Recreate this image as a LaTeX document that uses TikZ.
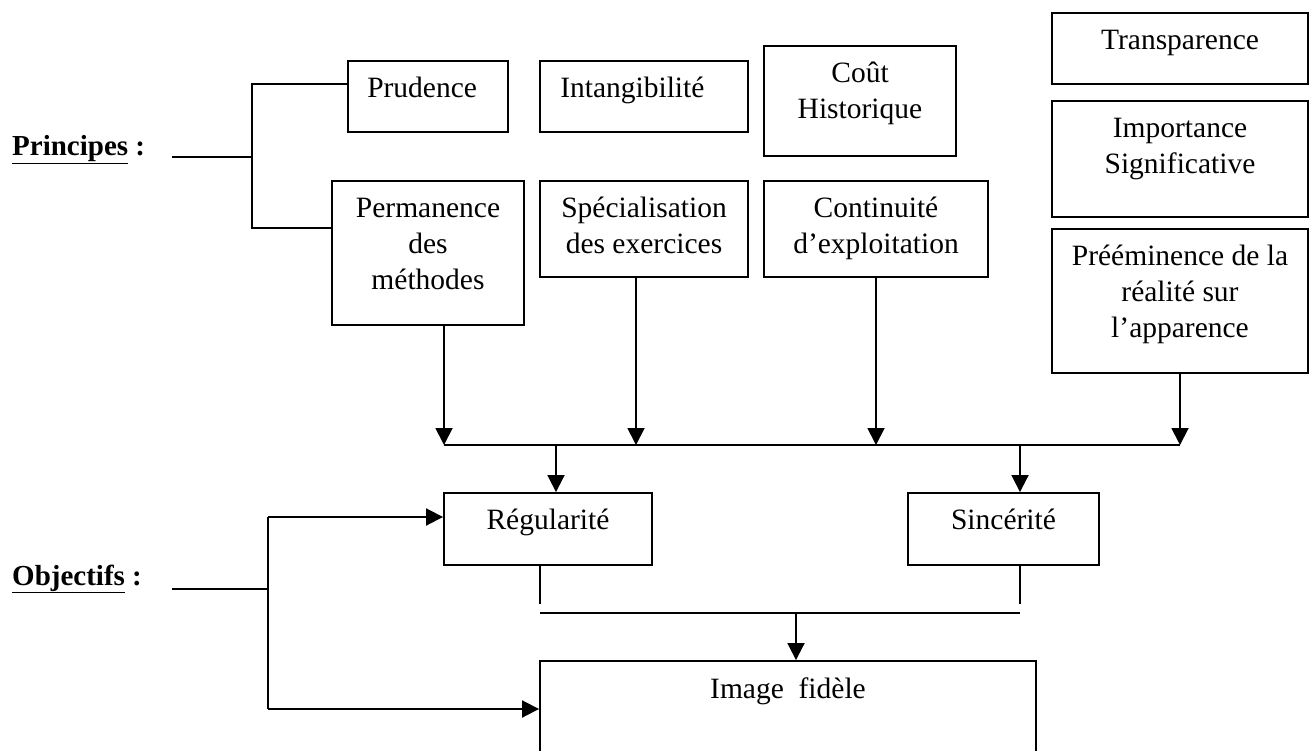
\documentclass[tikz,border=0pt]{standalone}
\usepackage{fontspec}
\setmainfont{Liberation Serif}
\usetikzlibrary{arrows.meta,positioning}
\begin{document}
\begin{tikzpicture}[x=1pt,y=-1pt,
  bx/.style={draw,line width=1.9pt,inner sep=0pt,rectangle},
  txt/.style={inner sep=0pt,align=center,font=\fontsize{29.5}{36}\selectfont},
  ltxt/.style={inner sep=0pt,align=left,font=\fontsize{29.5}{36}\selectfont},
  lbl/.style={inner sep=0pt,anchor=base west,font=\fontsize{29}{36}\selectfont\bfseries},
  ln/.style={line width=1.9pt},
  arr/.style={line width=1.9pt,-{Triangle[length=17pt,width=17pt]}}]
\useasboundingbox (0,0) rectangle (1314,751);
\clip (0,0) rectangle (1314,751);
\fill[white] (0,0) rectangle (1314,751);

% boxes
\node[bx,minimum width=160pt,minimum height=71pt] (prud) at (428,96.5) {};
\node[bx,minimum width=208pt,minimum height=71pt] (intang) at (644,96.5) {};
\node[bx,minimum width=192pt,minimum height=110pt] (cout) at (860,101) {};
\node[bx,minimum width=256pt,minimum height=71pt] (transp) at (1180,48.5) {};
\node[bx,minimum width=256pt,minimum height=116pt] (imp) at (1180,159) {};
\node[bx,minimum width=192pt,minimum height=144pt] (perm) at (428,253) {};
\node[bx,minimum width=208pt,minimum height=96pt] (spec) at (644,229) {};
\node[bx,minimum width=224pt,minimum height=96pt] (cont) at (876,229) {};
\node[bx,minimum width=256pt,minimum height=144pt] (pree) at (1180,301) {};
\node[bx,minimum width=208pt,minimum height=72pt] (reg) at (548,529) {};
\node[bx,minimum width=191pt,minimum height=72pt] (sinc) at (1003.5,529) {};
\node[bx,minimum width=496pt,minimum height=109pt] (img) at (788,715.5) {};

% texts
\node[ltxt,anchor=north west] (prudT) at ([xshift=20pt,yshift=-11.8pt]prud.north west) {\strut Prudence};
\node[ltxt,anchor=north west] (intangT) at ([xshift=21pt,yshift=-11.8pt]intang.north west) {\strut Intangibilité};
\node[txt,anchor=north] (coutT) at ([yshift=-11.8pt]cout.north) {\strut Coût\\Historique};
\node[txt,anchor=north] (transpT) at ([yshift=-11.8pt]transp.north) {\strut Transparence};
\node[txt,anchor=north] (impT) at ([yshift=-11.8pt]imp.north) {\strut Importance\\Significative};
\node[txt,anchor=north] (permT) at ([yshift=-11.8pt]perm.north) {\strut Permanence\\des\\méthodes};
\node[txt,anchor=north] (specT) at ([yshift=-11.8pt]spec.north) {\strut Spécialisation\\des exercices};
\node[txt,anchor=north] (contT) at ([yshift=-11.8pt]cont.north) {\strut Continuité\\d’exploitation};
\node[txt,anchor=north] (preeT) at ([yshift=-11.8pt]pree.north) {\strut Prééminence de la\\réalité sur\\l’apparence};
\node[txt,anchor=north] (regT) at ([yshift=-11.8pt]reg.north) {\strut Régularité};
\node[txt,anchor=north] (sincT) at ([yshift=-11.8pt]sinc.north) {\strut Sincérité};
\node[txt,anchor=north] (imgT) at ([yshift=-12.8pt]img.north) {\strut Image\ \ fidèle};

% labels
\node[lbl] (princ) at (12,156) {\underline{Principes} :};
\node[lbl] (obj) at (12,585) {\underline{Objectifs} :};

% principes bracket
\coordinate (pstart) at (172,157);
\coordinate (pj) at (252,157);
\coordinate (pbtop) at (252,84);
\coordinate (pbbot) at (252,228);
\draw[ln] (pstart) -- (pj);
\draw[ln] (prud.west |- pbtop) -- (pbtop) -- (pbbot) -- (perm.west |- pbbot);

% bus
\coordinate (b1) at (444,445);
\coordinate (b2) at (636,445);
\coordinate (b3) at (876,445);
\coordinate (b4) at (1180,445);
\draw[arr] (perm.south -| b1) -- (b1);
\draw[arr] (spec.south -| b2) -- (b2);
\draw[arr] (cont.south -| b3) -- (b3);
\draw[arr] (pree.south -| b4) -- (b4);
\draw[ln] (b1) -- (b4);

\coordinate (r1) at (556,445);
\coordinate (s1) at (1020,445);
\draw[arr] (r1) -- (reg.north -| r1);
\draw[arr] (s1) -- (sinc.north -| s1);

% lower join
\coordinate (rs) at (540,604);
\coordinate (ss) at (1020,604);
\coordinate (m1) at (540,613);
\coordinate (m2) at (1020,613);
\coordinate (mi) at (796,613);
\draw[ln] (reg.south -| rs) -- (rs);
\draw[ln] (sinc.south -| ss) -- (ss);
\draw[ln] (m1) -- (m2);
\draw[arr] (mi) -- (img.north -| mi);

% objectifs bracket
\coordinate (ostart) at (172,589);
\coordinate (oj) at (268,589);
\coordinate (otop) at (268,517);
\coordinate (obot) at (268,709);
\draw[ln] (ostart) -- (oj);
\draw[ln] (otop) -- (obot);
\draw[arr] (otop) -- (reg.west |- otop);
\draw[arr] (obot) -- (img.west |- obot);
\end{tikzpicture}
\end{document}
